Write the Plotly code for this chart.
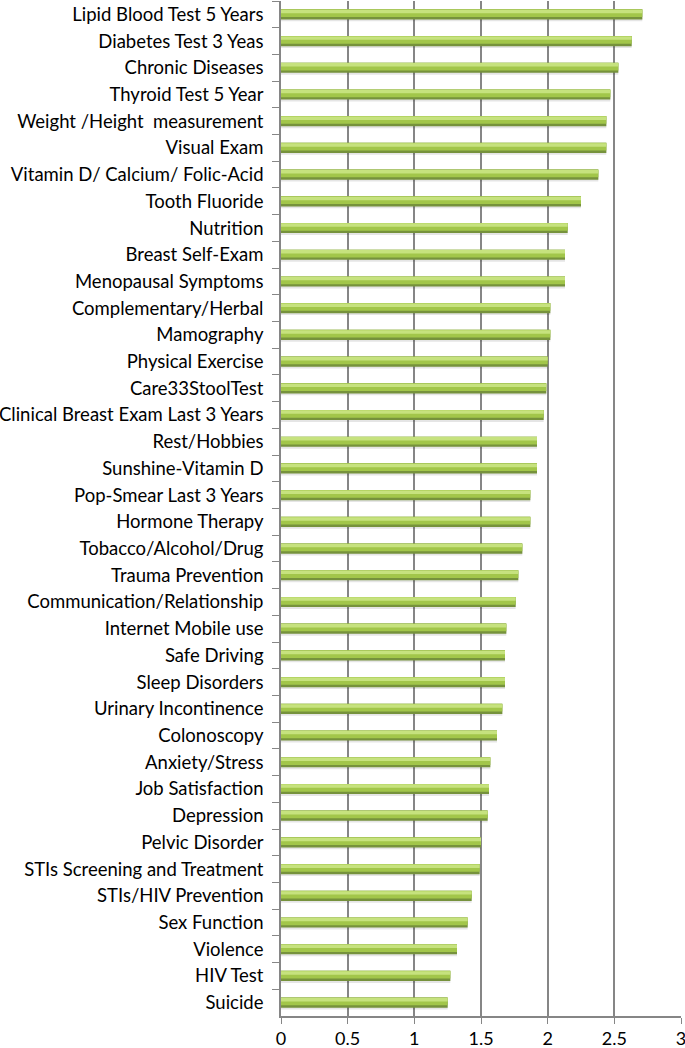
import plotly.graph_objects as go

categories = [
    "Lipid Blood Test 5 Years", "Diabetes Test 3 Yeas", "Chronic Diseases",
    "Thyroid Test 5 Year", "Weight /Height  measurement", "Visual Exam",
    "Vitamin D/ Calcium/ Folic-Acid", "Tooth Fluoride", "Nutrition",
    "Breast Self-Exam", "Menopausal Symptoms", "Complementary/Herbal",
    "Mamography", "Physical Exercise", "Care33StoolTest",
    "Clinical Breast Exam Last 3 Years", "Rest/Hobbies", "Sunshine-Vitamin D",
    "Pop-Smear Last 3 Years", "Hormone Therapy", "Tobacco/Alcohol/Drug",
    "Trauma Prevention", "Communication/Relationship", "Internet Mobile use",
    "Safe Driving", "Sleep Disorders", "Urinary Incontinence", "Colonoscopy",
    "Anxiety/Stress", "Job Satisfaction", "Depression", "Pelvic Disorder",
    "STIs Screening and Treatment", "STIs/HIV Prevention", "Sex Function",
    "Violence", "HIV Test", "Suicide",
]
values = [
    2.71, 2.63, 2.53, 2.47, 2.44, 2.44, 2.38, 2.25, 2.15, 2.13, 2.13, 2.02,
    2.02, 2.00, 1.99, 1.97, 1.92, 1.92, 1.87, 1.87, 1.81, 1.78, 1.76, 1.69,
    1.68, 1.68, 1.66, 1.62, 1.57, 1.56, 1.55, 1.50, 1.49, 1.43, 1.40, 1.32,
    1.27, 1.25,
]
x_ticks = [0, 0.5, 1, 1.5, 2, 2.5, 3]
x_tick_labels = ["0", "0.5", "1", "1.5", "2", "2.5", "3"]

fig = go.Figure()
# soft shadow
fig.add_trace(go.Bar(y=categories, x=values, orientation="h", width=0.40, offset=-0.14,
                     marker=dict(color="rgba(0,0,0,0.10)", line=dict(width=0)),
                     hoverinfo="skip", showlegend=False))
# dark body / edge
fig.add_trace(go.Bar(y=categories, x=values, orientation="h", width=0.38, offset=-0.19,
                     marker=dict(color="#76923c", line=dict(width=0)),
                     showlegend=False))
# main face
fig.add_trace(go.Bar(y=categories, x=values, orientation="h", width=0.29, offset=-0.19,
                     marker=dict(color="#a2c64a", line=dict(width=0)),
                     hoverinfo="skip", showlegend=False))
# highlight
fig.add_trace(go.Bar(y=categories, x=values, orientation="h", width=0.13, offset=-0.175,
                     marker=dict(color="#c6e27e", line=dict(width=0)),
                     hoverinfo="skip", showlegend=False))

fig.update_layout(
    width=685, height=1048,
    margin=dict(l=281, r=4, t=1, b=32),
    paper_bgcolor="white", plot_bgcolor="white",
    barmode="overlay",
    font=dict(family="Lato, 'Open Sans', sans-serif", size=18, color="black"),
    xaxis=dict(
        range=[0, 3], tickvals=x_ticks, ticktext=x_tick_labels,
        showgrid=True, gridcolor="#868686", gridwidth=1.6,
        showline=True, linecolor="#868686", linewidth=1.6,
        ticks="outside", ticklen=6, tickcolor="#868686", tickwidth=1.4,
        zeroline=False, tickfont=dict(size=18), automargin=False,
        ticklabeloverflow="allow",
    ),
    yaxis=dict(
        type="category", autorange="reversed",
        showgrid=False, showline=True, linecolor="#868686", linewidth=1.6,
        ticks="outside", ticklen=7, tickcolor="#868686", tickwidth=1.4,
        tickson="boundaries",
        tickfont=dict(size=18.5), ticklabelstandoff=12, automargin=False,
    ),
)

fig.write_html(
    "out.html",
    config={"displayModeBar": False},
    post_script="document.body.style.margin='0';document.body.style.overflow='hidden';",
)
